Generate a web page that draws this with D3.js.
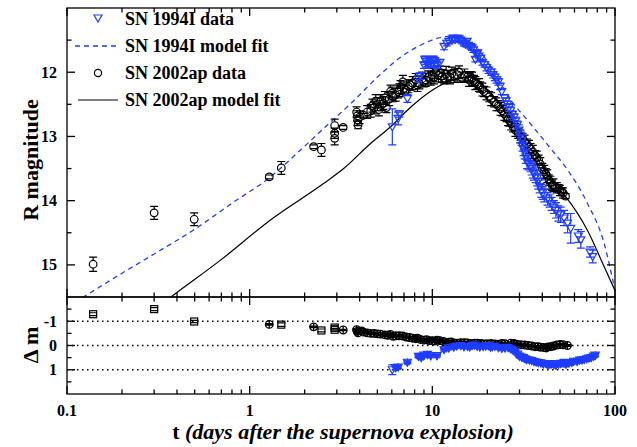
<!DOCTYPE html>
<html><head><meta charset="utf-8">
<script src="https://cdn.jsdelivr.net/npm/d3@7"></script>
<style>
body{margin:0;background:#fff}
text{font-family:"Liberation Serif","Times New Roman",serif;font-weight:bold;fill:#000}
</style>
</head><body>
<svg id="c" width="637" height="447"></svg>
<script>
// ---------- data ----------
// SN 1994I observed R magnitudes: [t (days), R, error]
const sn1994Data = [
[6.04,12.85,0.28],[6.5,12.72,0.1],[6.6,12.65,0.05],[7.3,12.41,0.06],[8.4,12.1,0.05],[8.6,12.06,0.05],
[9.0,11.89,0.05],[9.1,11.8,0.05],[9.2,11.83,0.05],[9.4,11.86,0.05],[9.6,11.88,0.05],[9.7,11.82,0.05],
[10.0,11.86,0.05],[10.1,11.8,0.05],[10.3,11.82,0.04],[10.4,11.87,0.05],[10.6,11.89,0.05],[11.0,11.85,0.05],
[11.6,11.6,0.05],[12.0,11.55,0.04],[12.3,11.52,0.04],[12.8,11.5,0.04],[13.0,11.47,0.04],[13.3,11.49,0.04],
[13.7,11.47,0.04],[14.0,11.48,0.04],[14.3,11.5,0.04],[14.6,11.52,0.04],[14.9,11.55,0.04],[15.2,11.56,0.04],
[15.5,11.52,0.04],[15.8,11.58,0.04],[16.2,11.6,0.04],[16.5,11.62,0.04],[16.8,11.65,0.04],[17.2,11.8,0.04],
[17.5,11.72,0.04],[17.7,11.7,0.04],[18,11.75,0.04],[18.4,11.78,0.04],[18.8,11.85,0.04],[19.3,11.88,0.04],
[19.8,11.93,0.05],[20.3,11.97,0.05],[21,12.0,0.05],[21.5,12.04,0.05],[22,12.08,0.05],[22.5,12.12,0.05],
[23.0,12.15,0.05],[23.5,12.22,0.05],[24.0,12.3,0.05],[24.8,12.4,0.05],[25.3,12.45,0.05],[25.8,12.5,0.05],
[26.3,12.55,0.06],[26.8,12.6,0.06],[27.4,12.66,0.06],[28.0,12.7,0.05],[28.6,12.76,0.06],[29.2,12.82,0.06],
[29.8,12.9,0.08],[30.3,12.98,0.08],[30.8,13.06,0.08],[31.2,13.15,0.08],[31.6,13.2,0.1],[32,13.25,0.1],
[32.5,13.32,0.1],[33.0,13.4,0.1],[33.6,13.42,0.1],[34.5,13.47,0.08],[35,13.5,0.1],[35.5,13.55,0.1],
[36,13.58,0.1],[36.8,13.62,0.1],[37.5,13.65,0.12],[38,13.7,0.12],[38.7,13.78,0.1],[39.5,13.85,0.1],
[40.2,13.88,0.1],[41,13.92,0.1],[42.7,13.97,0.1],[43.8,14.0,0.1],[45,14.05,0.1],[46.3,14.1,0.1],
[47.5,14.15,0.12],[49,14.2,0.12],[50.5,14.22,0.12],[52.6,14.27,0.12],[55,14.35,0.15],[57.2,14.43,0.23],
[63,14.55,0.1],[65,14.61,0.13],[73,14.8,0.08],[75.5,14.87,0.1]
];
// SN 2002ap observed R magnitudes: [t (days), R, error]
const sn2002Data = [
[0.139,14.99,0.11],[0.30,14.19,0.10],[0.497,14.29,0.10],[1.28,13.63,0.03],[1.49,13.49,0.10],
[2.24,13.16,0.03],[2.47,13.21,0.10],[2.92,12.83,0.10],[2.92,12.95,0.08],[2.92,13.03,0.10],[3.25,12.86,0.03],
[3.85,12.62,0.08],[3.88,12.68,0.08],[3.9,12.75,0.08],[3.92,12.82,0.06],[4.0,12.7,0.1],[4.2,12.67,0.03],
[4.4,12.62,0.1],[4.6,12.6,0.1],[4.7,12.52,0.1],[4.8,12.55,0.1],[4.9,12.45,0.1],[5.0,12.5,0.1],[5.1,12.58,0.1],
[5.2,12.45,0.1],[5.3,12.5,0.1],[5.4,12.48,0.1],[5.5,12.4,0.1],[5.6,12.55,0.08],[5.8,12.42,0.1],[5.9,12.3,0.1],
[6.0,12.33,0.1],[6.1,12.38,0.08],[6.3,12.35,0.1],[6.5,12.3,0.1],[6.6,12.28,0.1],[6.7,12.23,0.1],[6.9,12.15,0.1],
[7.0,12.25,0.1],[7.2,12.28,0.08],[7.4,12.22,0.1],[7.6,12.2,0.08],[7.8,12.17,0.1],[8.1,12.12,0.1],[8.3,12.2,0.1],
[8.5,12.18,0.08],[8.8,12.1,0.1],[8.95,12.15,0.08],[9.2,12.12,0.1],[9.5,12.08,0.1],[9.8,12.1,0.1],[10.0,12.04,0.1],
[10.2,12.08,0.1],[10.5,12.0,0.1],[10.8,12.05,0.1],[11.1,12.01,0.1],[11.3,12.06,0.1],[11.6,12.1,0.08],
[11.9,12.03,0.12],[12.1,12.07,0.1],[12.5,12.08,0.1],[12.8,12.02,0.1],[13.2,12.06,0.1],[13.7,12.04,0.1],
[14.0,12.0,0.1],[14.5,12.08,0.08],[15.0,12.05,0.1],[15.6,12.07,0.08],[15.9,12.12,0.1],[16.2,12.07,0.08],
[16.5,12.1,0.1],[16.9,12.13,0.08],[17.2,12.17,0.1],[17.6,12.18,0.08],[18.0,12.2,0.1],[18.3,12.23,0.08],
[18.8,12.27,0.1],[19.2,12.3,0.08],[19.8,12.33,0.1],[20.5,12.38,0.08],[21,12.42,0.1],[21.8,12.46,0.08],
[22.4,12.5,0.1],[23,12.52,0.08],[23.6,12.57,0.1],[24.2,12.6,0.08],[24.8,12.65,0.1],[25.5,12.69,0.08],
[26,12.73,0.1],[26.5,12.76,0.08],[27,12.8,0.1],[27.7,12.85,0.08],[28.5,12.9,0.1],[29.5,12.95,0.08],
[30.3,13.0,0.1],[31.2,13.03,0.08],[32,13.08,0.1],[33,13.12,0.08],[33.8,13.16,0.1],[34.5,13.19,0.08],
[35.5,13.24,0.1],[36.5,13.3,0.08],[37.3,13.33,0.1],[38.2,13.37,0.08],[39,13.43,0.1],[40,13.5,0.08],
[41,13.55,0.1],[41.8,13.58,0.08],[42.6,13.62,0.1],[43.5,13.68,0.08],[44.3,13.72,0.1],[45.3,13.76,0.08],
[46,13.76,0.1],[47,13.78,0.06],[48,13.8,0.08],[49.2,13.81,0.06],[50,13.84,0.08],[51,13.86,0.06],
[52,13.88,0.08],[53.6,13.93,0.04]
];
// model fits: [t (days), R]
const sn1994Model = [
[0.1,15.66],[0.128,15.47],[0.2,15.13],[0.3,14.83],[0.491,14.46],[0.8,14.04],[1.3,13.63],[1.9,13.21],
[2.6,12.85],[3.6,12.48],[5.17,12.04],[6.6,11.78],[8.6,11.58],[10.7,11.47],[12.5,11.44],[14,11.46],
[16,11.53],[18,11.66],[20,11.83],[23,12.12],[25.2,12.3],[28,12.5],[31.7,12.68],[39.3,13.0],[43.6,13.16],
[55,13.52],[70.6,14.04],[87.3,14.67],[100,15.4]
];
const sn2002Model = [
[0.33,15.61],[0.383,15.47],[0.69,14.93],[1.3,14.30],[2.55,13.73],[3.27,13.50],[4.59,13.11],[5.91,12.85],
[7.5,12.56],[9.75,12.3],[11.9,12.16],[14.7,12.08],[16.5,12.08],[18.4,12.18],[20,12.28],[23.7,12.52],
[27.7,12.83],[31.2,13.03],[38.2,13.37],[45,13.7],[53.8,13.94],[70.6,14.46],[87.3,15.03],[100,15.4]
];
// residuals (data - model): [t, dm, error]
const sn2002Resid = [
[0.139,-1.29,0.06],[0.30,-1.5,0.06],[0.497,-0.99,0.05],[1.28,-0.87,0.03],[1.49,-0.86,0.07],[2.24,-0.77,0.03],
[2.47,-0.62,0.06],[2.92,-0.74,0.07],[2.92,-0.65,0.06],[3.25,-0.64,0.03],[3.85,-0.65,0.05],[3.88,-0.58,0.05],
[3.92,-0.52,0.05],[4.1,-0.6,0.05],[4.2,-0.55,0.03],[4.4,-0.52,0.05],[4.6,-0.5,0.05],[4.8,-0.5,0.05],
[5.0,-0.48,0.05],[5.2,-0.47,0.05],[5.5,-0.44,0.05],[5.7,-0.42,0.05],[5.9,-0.46,0.05],[6.1,-0.38,0.05],
[6.3,-0.4,0.05],[6.6,-0.4,0.05],[6.9,-0.39,0.05],[7.2,-0.35,0.05],[7.5,-0.33,0.05],[7.8,-0.3,0.05],
[8.1,-0.28,0.05],[8.3,-0.3,0.05],[8.6,-0.25,0.05],[9.0,-0.22,0.05],[9.3,-0.24,0.05],[9.6,-0.2,0.05],
[10.0,-0.2,0.05],[10.3,-0.18,0.05],[10.6,-0.22,0.05],[11.0,-0.2,0.05],[11.5,-0.17,0.05],[11.9,-0.13,0.05],
[12.3,-0.14,0.05],[12.7,-0.15,0.05],[13.1,-0.11,0.05],[13.6,-0.1,0.05],[14.3,-0.12,0.05],[15,-0.12,0.05],
[15.6,-0.11,0.05],[16.2,-0.08,0.05],[17,-0.1,0.05],[17.7,-0.1,0.05],[18.5,-0.08,0.05],[19.2,-0.06,0.05],
[20,-0.07,0.05],[21,-0.08,0.05],[22,-0.06,0.05],[23,-0.05,0.05],[24,-0.08,0.05],[25,-0.07,0.05],
[26.9,-0.1,0.05],[28,-0.08,0.05],[29,-0.05,0.05],[30.5,-0.03,0.05],[32,-0.02,0.05],[33.5,0.0,0.05],
[35,0.02,0.05],[36.5,0.05,0.05],[38,0.05,0.05],[39,0.07,0.05],[40.6,0.08,0.05],[42,0.1,0.05],
[43,0.06,0.05],[44.5,0.05,0.05],[46,0.02,0.05],[48,-0.02,0.05],[50,-0.04,0.05],[52,-0.03,0.05],[54.9,0,0.04]
];
const sn1994Resid = [
[6.04,1.0,0.2],[6.3,0.92,0.08],[6.5,0.89,0.06],[7.3,0.69,0.05],[8.4,0.45,0.05],[8.7,0.5,0.05],[9.0,0.4,0.05],
[9.4,0.37,0.05],[9.8,0.42,0.05],[10.6,0.42,0.05],[11.6,0.17,0.05],[12.3,0.1,0.05],[13.1,0.06,0.05],
[13.6,0.02,0.05],[14.3,0.0,0.05],[14.9,0.05,0.05],[15.6,0.03,0.05],[16,0.06,0.05],[16.5,0.0,0.04],
[17,-0.02,0.05],[17.6,0.03,0.05],[18.2,0.06,0.05],[19,0.04,0.05],[19.6,0.02,0.05],[20.3,0.0,0.05],
[20.8,0.07,0.05],[21.3,0.05,0.05],[22,0.03,0.05],[23,0.08,0.05],[24,0.12,0.05],[25,0.1,0.05],[26,0.08,0.05],
[26.9,0.14,0.05],[27.7,0.2,0.05],[28.5,0.25,0.05],[29.3,0.35,0.05],[30,0.44,0.06],[30.8,0.48,0.06],
[31.5,0.5,0.06],[32.2,0.55,0.06],[32.9,0.58,0.06],[34,0.6,0.06],[35,0.62,0.06],[36,0.66,0.06],[37,0.68,0.06],
[38,0.7,0.06],[39.3,0.72,0.06],[40.5,0.76,0.06],[42,0.75,0.06],[43,0.8,0.06],[44,0.78,0.06],[45,0.75,0.06],
[46.3,0.79,0.06],[47.5,0.82,0.06],[49,0.76,0.06],[50.5,0.74,0.06],[52.6,0.72,0.15],[54,0.78,0.06],
[56,0.72,0.06],[58,0.7,0.06],[59.3,0.65,0.06],[62,0.66,0.06],[64,0.6,0.06],[66,0.6,0.06],[67.8,0.58,0.06],
[70,0.55,0.06],[72,0.52,0.06],[74,0.5,0.06],[76.4,0.44,0.06],[78,0.4,0.06]
];
// tick labels
const xTickVals = [0.1,1,10,100];
const xTickLabels = ["0.1","1","10","100"];
const y1TickVals = [12,13,14,15];
const y1TickLabels = ["12","13","14","15"];
const y2TickVals = [-1,0,1];
const y2TickLabels = ["-1","0","1"];
const legendLabels = ["SN 1994I data","SN 1994I model fit","SN 2002ap data","SN 2002ap model fit"];

// ---------- layout ----------
const BLUE = "#1f3dff";
const L=67, R=615, T1=8, B1=297, B2=394;
const MR = 3.8; // marker radius
const svg = d3.select("#c");
const x = d3.scaleLog().domain([0.1,100]).range([L,R]);
const y1 = d3.scaleLinear().domain([11,15.5]).range([T1,B1]);
const y2 = d3.scaleLinear().domain([-2,2]).range([B1,B2]);

const defs = svg.append("defs");
defs.append("clipPath").attr("id","clip1").append("rect").attr("x",L).attr("y",T1).attr("width",R-L).attr("height",B1-T1);
defs.append("clipPath").attr("id","clip2").append("rect").attr("x",L).attr("y",B1).attr("width",R-L).attr("height",B2-B1);

// dotted reference lines in lower panel
svg.append("g").selectAll("line").data(y2TickVals).join("line")
  .attr("x1",L).attr("x2",R).attr("y1",d=>y2(d)).attr("y2",d=>y2(d))
  .attr("stroke","#000").attr("stroke-width",1.3).attr("stroke-dasharray","1.5,3.5");

// model curves
const line1 = d3.line().x(d=>x(d[0])).y(d=>y1(d[1])).curve(d3.curveMonotoneX);
const gm = svg.append("g").attr("clip-path","url(#clip1)");
gm.append("path").attr("d",line1(sn2002Model)).attr("fill","none").attr("stroke","#000").attr("stroke-width",1.2);
gm.append("path").attr("d",line1(sn1994Model)).attr("fill","none").attr("stroke",BLUE).attr("stroke-width",1.3).attr("stroke-dasharray","5,4");

// helpers: error bars drawn outside the marker, with caps
function errbars(g, data, ys, color){
  const e = g.append("g").attr("stroke",color).attr("stroke-width",1.2).attr("fill","none");
  data.forEach(d=>{
    const xx=x(d[0]), yc=ys(d[1]), ya=ys(d[1]-d[2]), yb=ys(d[1]+d[2]);
    const lo=Math.min(ya,yb), hi=Math.max(ya,yb);
    let p = `M${xx-4},${lo}H${xx+4}M${xx-4},${hi}H${xx+4}`;
    if (yc-lo > MR) p += `M${xx},${lo}V${yc-MR}M${xx},${yc+MR}V${hi}`;
    e.append("path").attr("d",p);
  });
}
const triPath = "M-4,-3L4,-3L0,4Z";
function triangles(g, data, ys){
  g.append("g").selectAll("path").data(data).join("path")
   .attr("d",triPath).attr("transform",d=>`translate(${x(d[0])},${ys(d[1])})`)
   .attr("fill","none").attr("stroke",BLUE).attr("stroke-width",1.2);
}
function circles(g, data, ys){
  g.append("g").selectAll("circle").data(data).join("circle")
   .attr("cx",d=>x(d[0])).attr("cy",d=>ys(d[1])).attr("r",MR)
   .attr("fill","none").attr("stroke","#000").attr("stroke-width",1.2);
}

// upper panel data
const gd = svg.append("g").attr("clip-path","url(#clip1)");
errbars(gd, sn2002Data, y1, "#000");
circles(gd, sn2002Data, y1);
errbars(gd, sn1994Data, y1, BLUE);
triangles(gd, sn1994Data, y1);

// lower panel residuals
const gr = svg.append("g").attr("clip-path","url(#clip2)");
errbars(gr, sn2002Resid, y2, "#000");
const isSquare = d => d[0]<1 || d[0]===1.49 || d[0]===2.47 || d[0]===2.92;
gr.append("g").selectAll("rect").data(sn2002Resid.filter(isSquare)).join("rect")
  .attr("x",d=>x(d[0])-3.5).attr("y",d=>y2(d[1])-3.5).attr("width",7).attr("height",7)
  .attr("fill","none").attr("stroke","#000").attr("stroke-width",1.2);
const gl = gr.append("g");
sn2002Resid.filter(d=>!isSquare(d)).forEach(d=>{
  const cx=x(d[0]), cy=y2(d[1]);
  gl.append("circle").attr("cx",cx).attr("cy",cy).attr("r",MR).attr("fill","none").attr("stroke","#000").attr("stroke-width",1.3);
  gl.append("path").attr("d",`M${cx-MR},${cy}H${cx+MR}M${cx},${cy-MR}V${cy+MR}`).attr("stroke","#000").attr("stroke-width",1.3);
});
errbars(gr, sn1994Resid, y2, BLUE);
gr.append("g").selectAll("path").data(sn1994Resid).join("path")
  .attr("d",triPath).attr("transform",d=>`translate(${x(d[0])},${y2(d[1])})`)
  .attr("fill","none").attr("stroke",BLUE).attr("stroke-width",1.2);
gr.append("g").selectAll("path").data(sn1994Resid.filter(d=>d[0]>6.2)).join("path")
  .attr("d",d=>{const cx=x(d[0]),cy=y2(d[1]);return `M${cx-3.8},${cy}H${cx+3.8}M${cx},${cy-3.8}V${cy+3.8}M${cx-2.7},${cy-2.7}L${cx+2.7},${cy+2.7}M${cx+2.7},${cy-2.7}L${cx-2.7},${cy+2.7}`;})
  .attr("stroke",BLUE).attr("stroke-width",1.3);

// ---------- frames & ticks ----------
const ax = svg.append("g").attr("stroke","#000").attr("stroke-width",1.3);
ax.append("rect").attr("x",L).attr("y",T1).attr("width",R-L).attr("height",B1-T1).attr("fill","none");
ax.append("rect").attr("x",L).attr("y",B1).attr("width",R-L).attr("height",B2-B1).attr("fill","none");
const MAJ=8, MIN=4.5;
const xMinor = x.ticks().filter(v=>!xTickVals.includes(v));
function xTicks(yy, dir){
  xTickVals.forEach(v=>ax.append("line").attr("x1",x(v)).attr("x2",x(v)).attr("y1",yy).attr("y2",yy+dir*MAJ));
  xMinor.forEach(v=>ax.append("line").attr("x1",x(v)).attr("x2",x(v)).attr("y1",yy).attr("y2",yy+dir*MIN));
}
xTicks(T1, 1); xTicks(B1, -1); xTicks(B1, 1); xTicks(B2, -1);
function yTicks(ys, major, minor){
  [[L,1],[R,-1]].forEach(([xx,dir])=>{
    major.forEach(v=>ax.append("line").attr("x1",xx).attr("x2",xx+dir*MAJ).attr("y1",ys(v)).attr("y2",ys(v)));
    minor.forEach(v=>ax.append("line").attr("x1",xx).attr("x2",xx+dir*MIN).attr("y1",ys(v)).attr("y2",ys(v)));
  });
}
yTicks(y1, y1TickVals, d3.range(11.5,15.5,1));
yTicks(y2, y2TickVals, [-1.5,-0.5,0.5,1.5]);

// tick labels
const tl = svg.append("g").style("font-size","16px");
xTickVals.forEach((v,i)=>tl.append("text").attr("x",x(v)).attr("y",416).attr("text-anchor","middle").text(xTickLabels[i]));
y1TickVals.forEach((v,i)=>tl.append("text").attr("x",57).attr("y",y1(v)+5.5).attr("text-anchor","end").text(y1TickLabels[i]));
y2TickVals.forEach((v,i)=>tl.append("text").attr("x",57).attr("y",y2(v)+5.5).attr("text-anchor","end").text(y2TickLabels[i]));

// axis titles
svg.append("text").attr("transform","translate(38,160) rotate(-90)").attr("text-anchor","middle")
  .style("font-size","22px").text("R magnitude");
svg.append("text").attr("transform","translate(38,345) rotate(-90)").attr("text-anchor","middle")
  .style("font-size","22px").text("\u0394 m");
const xt = svg.append("text").attr("x",343).attr("y",439).attr("text-anchor","middle").style("font-size","22px");
xt.append("tspan").text("t ");
xt.append("tspan").style("font-style","italic").text("(days after the supernova explosion)");

// legend
const lg = svg.append("g");
const rows = [19,46,73,100];
lg.append("path").attr("d",triPath).attr("transform",`translate(98,${rows[0]-1})`).attr("fill","none").attr("stroke",BLUE).attr("stroke-width",1.2);
lg.append("line").attr("x1",75).attr("x2",118).attr("y1",rows[1]).attr("y2",rows[1]).attr("stroke",BLUE).attr("stroke-width",1.3).attr("stroke-dasharray","5,4");
lg.append("circle").attr("cx",98).attr("cy",rows[2]).attr("r",3.6).attr("fill","none").attr("stroke","#000").attr("stroke-width",1.2);
lg.append("line").attr("x1",78).attr("x2",118).attr("y1",rows[3]).attr("y2",rows[3]).attr("stroke","#000").attr("stroke-width",1.2);
legendLabels.forEach((t,i)=>lg.append("text").attr("x",125).attr("y",rows[i]+6).style("font-size","18px").text(t));
</script>
</body></html>
